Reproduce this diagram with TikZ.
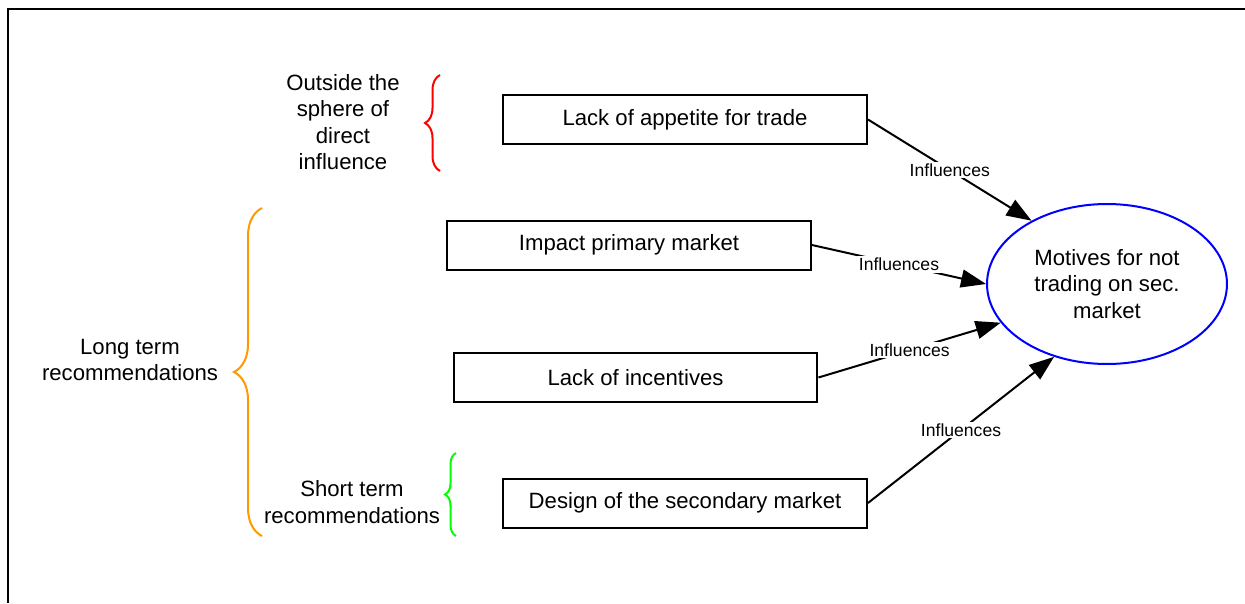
\documentclass[tikz,border=0pt]{standalone}
\usepackage{fontspec}
\setmainfont{Liberation Sans}
\usetikzlibrary{arrows.meta,shapes.geometric,decorations.pathreplacing}

\definecolor{longorange}{RGB}{255,153,0}

\tikzset{
  cause/.style={draw, line width=0.04cm, minimum width=7.28cm, minimum height=0.98cm,
    inner sep=0pt, font=\fontsize{12.6}{15.1}\selectfont},
  motive/.style={ellipse, draw=blue, line width=0.04cm, minimum width=4.8cm,
    minimum height=3.2cm, inner sep=0pt, align=center, font=\fontsize{12.6}{15.1}\selectfont},
  influence/.style={line width=0.04cm, -{Triangle[length=0.5cm,width=0.36cm]}},
  infl/.style={fill=white, inner sep=1pt, font=\fontsize{10}{12}\selectfont},
  note/.style={align=center, inner sep=0pt, font=\fontsize{12.6}{15.1}\selectfont},
  bracket/.style={line width=0.04cm, decorate, decoration={brace, amplitude=#1}}
}

\begin{document}
\begin{tikzpicture}[x=0.02cm, y=-0.02cm]
  \useasboundingbox (0,0) rectangle (1245,603);
  % frame
  \draw[line width=0.04cm] (8,603) -- (8,9) -- (1245,9);

  % the four causes and the motive
  \node[cause] (appetite) at (685,119.5) {Lack of appetite for trade};
  \node[cause] (primary) at (629,245) {Impact primary market};
  \node[cause] (incent) at (635.5,377.5) {Lack of incentives};
  \node[cause] (design) at (685,503) {Design of the secondary market};
  \node[motive] (motive) at (1107,284) {Motives for not\\trading on sec.\\market};

  % influences
  \draw[influence] (appetite.east) -- node[infl] (i1) {Influences} (motive.140);
  \draw[influence] (primary.east) -- node[infl] (i2) {Influences} (motive.180);
  \draw[influence] (incent.east) -- node[infl] (i3) {Influences} (motive.200);
  \draw[influence] (design.east) -- node[infl] (i4) {Influences} (motive.234);

  % groups
  \node[note] (outside) at (343,122) {Outside the\\sphere of\\direct\\influence};
  \node[note] (longterm) at (130,360) {Long term\\recommendations};
  \node[note] (shortterm) at (352,502) {Short term\\recommendations};

  \coordinate (ob) at (440,171);
  \coordinate (ot) at (440,75);
  \coordinate (lb) at (262,536);
  \coordinate (lt) at (262,208);
  \coordinate (sb) at (456,536);
  \coordinate (st) at (456,453);
  \draw[bracket=0.3cm, red] (ob) -- (ot);
  \draw[bracket=0.56cm, longorange] (lb) -- (lt);
  \draw[bracket=0.22cm, green] (sb) -- (st);
\end{tikzpicture}
\end{document}
